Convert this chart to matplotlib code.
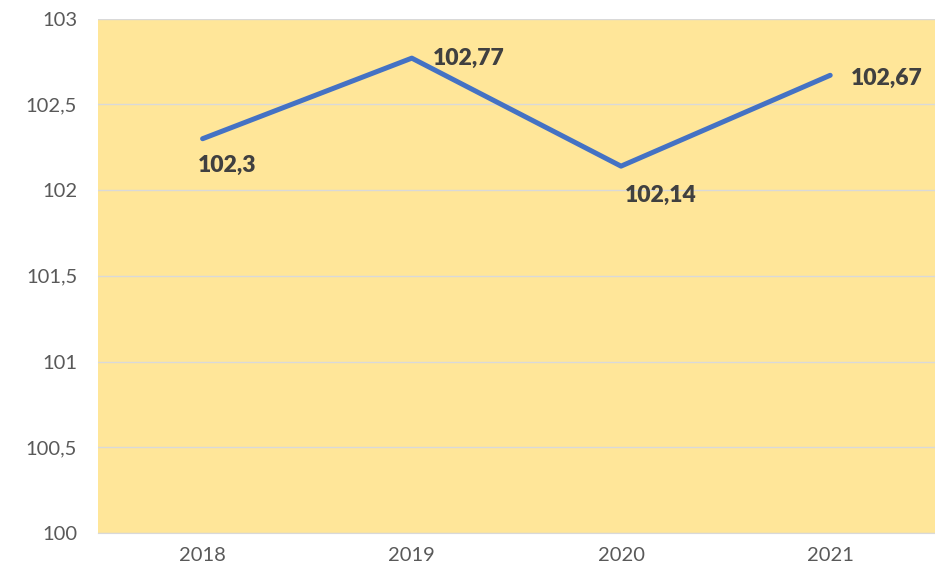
import matplotlib.pyplot as plt

years = ['2018', '2019', '2020', '2021']
values = [102.3, 102.77, 102.14, 102.67]
labels = ['102,3', '102,77', '102,14', '102,67']
yticks = [100, 100.5, 101, 101.5, 102, 102.5, 103]
ytick_labels = ['100', '100,5', '101', '101,5', '102', '102,5', '103']

plt.rcParams['font.family'] = ['Lato', 'DejaVu Sans']

fig = plt.figure(figsize=(9.35, 5.74), dpi=100)
ax = fig.add_axes([0.1048, 0.0714, 0.895, 0.896])
ax.set_facecolor('#FFE699')

x = list(range(len(years)))
ax.plot(x, values, color='#4472C4', linewidth=3.6, solid_capstyle='round', zorder=3)

# positie van de labels: onder of rechts van het punt
offsets = [(-3.6, -19), (15, 0), (3, -21), (15, -2)]
for i, (v, lab) in enumerate(zip(values, labels)):
    dx, dy = offsets[i]
    ax.annotate(lab, (x[i], v), xytext=(dx, dy), textcoords='offset points',
                ha='left', va='center', fontsize=16.5, fontweight='heavy', color='#404040')

ax.set_xlim(-0.5, 3.5)
ax.set_ylim(100, 103)
ax.set_xticks(x)
ax.set_xticklabels(years)
ax.set_yticks(yticks)
ax.set_yticklabels(ytick_labels)
ax.grid(axis='y', color='#D9D9D9', linewidth=1)
ax.set_axisbelow(True)
for s in ['top', 'right', 'left']:
    ax.spines[s].set_visible(False)
ax.spines['bottom'].set_color('#D9D9D9')
ax.tick_params(length=0, labelsize=14.5, colors='#595959')
ax.tick_params(axis='y', pad=15)
ax.tick_params(axis='x', pad=10)

plt.savefig('out.png')
